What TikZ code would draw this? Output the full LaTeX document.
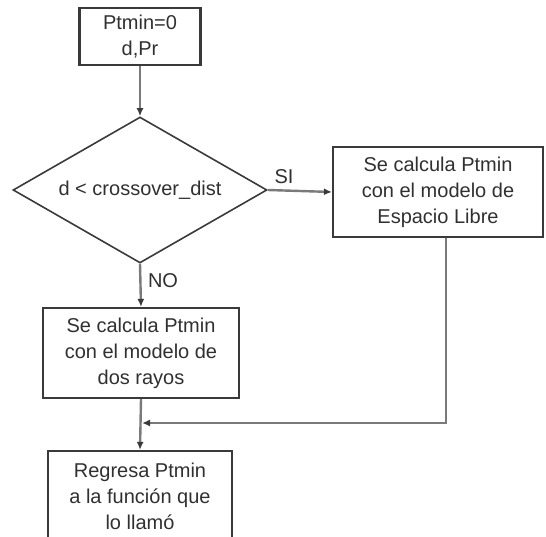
\documentclass[tikz,border=0pt]{standalone}
\usepackage{fontspec}
\setmainfont{Liberation Sans}
\usepackage{xcolor}
\usetikzlibrary{shapes.geometric,arrows.meta}

\definecolor{boxline}{HTML}{3A3A3A}
\definecolor{flowline}{HTML}{7A7A7A}
\definecolor{txt}{HTML}{303030}

\begin{document}
\begin{tikzpicture}[
  x=1pt, y=-1pt,
  every node/.style={text=txt, font=\fontsize{20}{26}\selectfont},
  proc/.style={rectangle, draw=boxline, line width=2.2pt, align=center, inner sep=2pt},
  decision/.style={diamond, draw=boxline, line width=1.6pt, inner sep=0pt, aspect=1.74,
    minimum width=254pt, minimum height=146pt},
  flow/.style={draw=flowline, line width=2.4pt, -{Latex[length=8pt,width=7pt,color=boxline]}},
  tag/.style={inner sep=0pt}
]
  \clip (0,0) rectangle (546,537);
  \useasboundingbox (0,0) rectangle (546,537);

  \node[proc, minimum width=121pt, minimum height=57pt] (init) at (140,36.5) {Ptmin=0\\d,Pr};
  \node[decision] (test) at (140,190) {d < crossover\_dist};
  \node[proc, minimum width=210pt, minimum height=90pt] (free) at (438,192)
    {Se calcula Ptmin\\con el modelo de\\Espacio Libre};
  \node[proc, minimum width=196pt, minimum height=90pt] (tworay) at (141,353)
    {Se calcula Ptmin\\con el modelo de\\dos rayos};
  \node[proc, minimum width=184pt, minimum height=90pt] (ret) at (140,496)
    {Regresa Ptmin\\a la función que\\lo llamó};

  \node[tag] (si) at (284,177) {SI};
  \node[tag] (no) at (163,281) {NO};
  \coordinate (join) at (142,423);

  \draw[flow] (init) -- (test);
  \draw[flow] (test.east) -- (free.west);
  \draw[flow] (test.south) -- (tworay.north);
  \draw[flow] (tworay.south) -- (ret.north);
  \draw[flow] ([xshift=8pt]free.south) |- (join);
\end{tikzpicture}
\end{document}
